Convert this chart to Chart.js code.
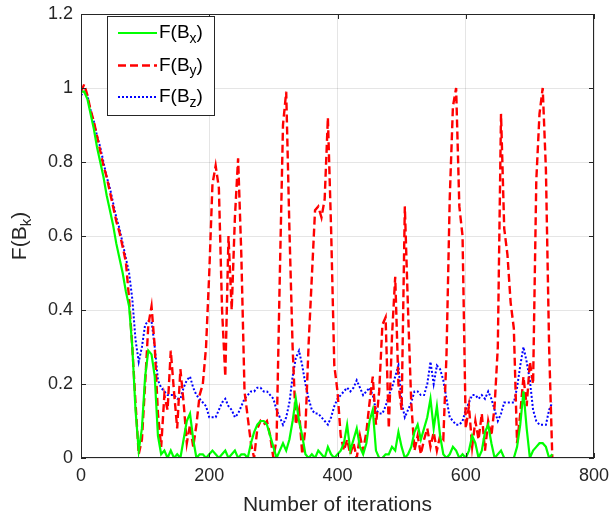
<!DOCTYPE html>
<html>
<head>
<meta charset="utf-8">
<script src="https://cdn.jsdelivr.net/npm/chart.js@4.4.1/dist/chart.umd.min.js"></script>
<style>
  html, body { margin: 0; padding: 0; background: #fff; }
</style>
</head>
<body>
<canvas id="chart1" width="611" height="520"></canvas>
<script>
// iterations sampled every 5 steps (0 .. 735)
var iterations = Array.from({ length: 148 }, function (_, i) { return i * 5; });

var seriesNames = ['F(B_x)', 'F(B_y)', 'F(B_z)'];
var yTitle = 'F(B_k)';
var xTitle = 'Number of iterations';

var xTicks = [0, 200, 400, 600, 800];
var xTickLabels = ['0', '200', '400', '600', '800'];
var yTicks = [0, 0.2, 0.4, 0.6, 0.8, 1, 1.2];
var yTickLabels = ['0', '0.2', '0.4', '0.6', '0.8', '1', '1.2'];

var fBx = [
  0.99, 0.99, 0.97, 0.93, 0.89, 0.84, 0.80, 0.76, 0.71, 0.67,
  0.63, 0.58, 0.54, 0.50, 0.45, 0.41, 0.30, 0.13, 0.02, 0.08,
  0.22, 0.29, 0.28, 0.22, 0.06, 0.01, 0.02, 0.00, 0.02, 0.00,
  0.01, 0.00, 0.05, 0.10, 0.12, 0.05, 0.00, 0.01, 0.01, 0.00,
  0.01, 0.02, 0.01, 0.00, 0.01, 0.02, 0.00, 0.01, 0.02, 0.00,
  0.01, 0.01, 0.00, 0.04, 0.07, 0.09, 0.10, 0.10, 0.09, 0.06,
  0.03, 0.00, 0.02, 0.04, 0.02, 0.05, 0.10, 0.16, 0.10, 0.06,
  0.01, 0.00, 0.01, 0.00, 0.02, 0.01, 0.00, 0.03, 0.01, 0.00,
  0.01, 0.02, 0.04, 0.09, 0.02, 0.05, 0.08, 0.03, 0.01, 0.04,
  0.10, 0.13, 0.02, 0.00, 0.00, 0.01, 0.01, 0.03, 0.02, 0.07,
  0.03, 0.00, 0.01, 0.03, 0.07, 0.09, 0.05, 0.08, 0.11, 0.16,
  0.08, 0.14, 0.06, 0.01, 0.00, 0.01, 0.03, 0.02, 0.00, 0.01,
  0.00, 0.02, 0.06, 0.04, 0.00, 0.02, 0.07, 0.09, 0.04, 0.00,
  0.01, 0.02, 0.00, 0.00, 0.00, 0.00, 0.03, 0.09, 0.18, 0.08,
  0.00, 0.02, 0.03, 0.04, 0.04, 0.03, 0.00, 0.01
];

var fBy = [
  0.99, 1.01, 0.98, 0.94, 0.91, 0.87, 0.83, 0.79, 0.76, 0.72,
  0.68, 0.64, 0.61, 0.57, 0.53, 0.43, 0.30, 0.15, 0.01, 0.05,
  0.20, 0.36, 0.41, 0.30, 0.12, 0.03, 0.17, 0.13, 0.29, 0.18,
  0.08, 0.24, 0.15, 0.04, 0.09, 0.03, 0.09, 0.17, 0.20, 0.30,
  0.50, 0.74, 0.79, 0.73, 0.40, 0.22, 0.60, 0.40, 0.65, 0.81,
  0.55, 0.18, 0.11, 0.04, 0.00, 0.08, 0.10, 0.09, 0.10, 0.06,
  0.00, 0.05, 0.49, 0.90, 0.99, 0.62, 0.30, 0.09, 0.13, 0.01,
  0.08, 0.31, 0.49, 0.67, 0.68, 0.65, 0.70, 0.92, 0.62, 0.25,
  0.18, 0.06, 0.02, 0.05, 0.01, 0.04, 0.00, 0.06, 0.02, 0.07,
  0.15, 0.22, 0.09, 0.18, 0.36, 0.38, 0.08, 0.33, 0.49, 0.20,
  0.13, 0.68, 0.40, 0.15, 0.02, 0.06, 0.01, 0.05, 0.08, 0.03,
  0.07, 0.02, 0.06, 0.05, 0.28, 0.70, 0.95, 1.00, 0.68, 0.60,
  0.08, 0.14, 0.03, 0.10, 0.05, 0.12, 0.02, 0.10, 0.06, 0.14,
  0.30, 0.93, 0.62, 0.55, 0.42, 0.35, 0.04, 0.12, 0.22, 0.14,
  0.26, 0.20, 0.75, 0.93, 1.00, 0.78, 0.30, 0.00
];

var fBz = [
  0.98, 0.99, 0.98, 0.94, 0.91, 0.87, 0.84, 0.80, 0.76, 0.73,
  0.69, 0.65, 0.62, 0.58, 0.54, 0.50, 0.43, 0.32, 0.26, 0.30,
  0.36, 0.37, 0.37, 0.30, 0.21, 0.19, 0.18, 0.17, 0.17, 0.17,
  0.16, 0.16, 0.19, 0.21, 0.22, 0.19, 0.17, 0.16, 0.15, 0.14,
  0.11, 0.11, 0.11, 0.13, 0.15, 0.16, 0.14, 0.13, 0.11, 0.12,
  0.14, 0.16, 0.17, 0.18, 0.18, 0.19, 0.19, 0.18, 0.18, 0.17,
  0.16, 0.13, 0.11, 0.09, 0.11, 0.15, 0.22, 0.27, 0.29, 0.25,
  0.20, 0.16, 0.13, 0.12, 0.12, 0.11, 0.10, 0.09, 0.11, 0.14,
  0.16, 0.17, 0.18, 0.19, 0.18, 0.19, 0.21, 0.19, 0.17, 0.18,
  0.19, 0.17, 0.13, 0.12, 0.12, 0.14, 0.17, 0.19, 0.22, 0.25,
  0.15, 0.11, 0.13, 0.15, 0.18, 0.18, 0.17, 0.17, 0.20, 0.26,
  0.20, 0.25, 0.24, 0.21, 0.16, 0.11, 0.10, 0.09, 0.09, 0.10,
  0.13, 0.15, 0.17, 0.17, 0.16, 0.17, 0.16, 0.18, 0.16, 0.13,
  0.10, 0.12, 0.15, 0.15, 0.15, 0.15, 0.19, 0.25, 0.30, 0.26,
  0.21, 0.13, 0.10, 0.09, 0.09, 0.09, 0.13, 0.15
];

var axisColor = '#262626';
var fontFamily = '"Liberation Sans", Arial, Helvetica, sans-serif';

// draws "F(B_x)" style text with a subscript, returns the width
function drawSubText(ctx, text, x, y, size, measureOnly) {
  var parts = text.split('_');
  var base = parts[0];
  var sub = parts[1] ? parts[1].charAt(0) : '';
  var tail = parts[1] ? parts[1].slice(1) : '';
  var subSize = Math.round(size * 0.72);
  ctx.font = size + 'px ' + fontFamily;
  var w1 = ctx.measureText(base).width;
  var w3 = ctx.measureText(tail).width;
  ctx.font = subSize + 'px ' + fontFamily;
  var w2 = ctx.measureText(sub).width;
  if (!measureOnly) {
    ctx.font = size + 'px ' + fontFamily;
    ctx.fillText(base, x, y);
    ctx.font = subSize + 'px ' + fontFamily;
    ctx.fillText(sub, x + w1, y + size * 0.32);
    ctx.font = size + 'px ' + fontFamily;
    ctx.fillText(tail, x + w1 + w2, y);
  }
  return w1 + w2 + w3;
}

var matlabLook = {
  id: 'matlabLook',
  afterDatasetsDraw: function (chart) {
    var ctx = chart.ctx;
    var a = chart.chartArea;
    var xs = chart.scales.x;
    var ys = chart.scales.y;

    ctx.save();
    // box + inward ticks
    ctx.strokeStyle = axisColor;
    ctx.lineWidth = 1;
    ctx.strokeRect(Math.round(a.left) + 0.5, Math.round(a.top) + 0.5,
      Math.round(a.width) - 1, Math.round(a.height) - 1);
    ctx.beginPath();
    xTicks.forEach(function (v) {
      var px = Math.round(xs.getPixelForValue(v)) + 0.5;
      ctx.moveTo(px, a.bottom); ctx.lineTo(px, a.bottom - 5);
      ctx.moveTo(px, a.top); ctx.lineTo(px, a.top + 5);
    });
    yTicks.forEach(function (v) {
      var py = Math.round(ys.getPixelForValue(v)) + 0.5;
      ctx.moveTo(a.left, py); ctx.lineTo(a.left + 5, py);
      ctx.moveTo(a.right, py); ctx.lineTo(a.right - 5, py);
    });
    ctx.stroke();

    // y axis title with subscript
    ctx.fillStyle = axisColor;
    ctx.textBaseline = 'middle';
    ctx.textAlign = 'left';
    var tw = drawSubText(ctx, yTitle, 0, 0, 21, true);
    ctx.translate(20, (a.top + a.bottom) / 2);
    ctx.rotate(-Math.PI / 2);
    drawSubText(ctx, yTitle, -tw / 2, 0, 21, false);
    ctx.restore();

    // legend
    ctx.save();
    var lx = 107.5, ly = 16.5, lw = 107, lh = 99;
    ctx.fillStyle = '#ffffff';
    ctx.fillRect(lx, ly, lw, lh);
    ctx.strokeStyle = axisColor;
    ctx.lineWidth = 1;
    ctx.strokeRect(lx, ly, lw, lh);
    var rows = [33, 65.5, 97];
    chart.data.datasets.forEach(function (ds, i) {
      ctx.save();
      ctx.strokeStyle = ds.borderColor;
      ctx.lineWidth = ds.borderWidth;
      ctx.setLineDash(ds.borderDash || []);
      ctx.beginPath();
      ctx.moveTo(118, rows[i]);
      ctx.lineTo(157, rows[i]);
      ctx.stroke();
      ctx.restore();
      ctx.fillStyle = '#000000';
      ctx.textBaseline = 'middle';
      ctx.textAlign = 'left';
      drawSubText(ctx, seriesNames[i], 159, rows[i], 19, false);
    });
    ctx.restore();
  }
};

var context = document.getElementById('chart1').getContext('2d');

var myChart = new Chart(context, {
  type: 'line',
  data: {
    labels: iterations,
    datasets: [{
      label: seriesNames[0],
      data: fBx,
      borderColor: '#00ff00',
      borderWidth: 2.2,
      borderDash: [],
      pointRadius: 0,
      tension: 0
    }, {
      label: seriesNames[1],
      data: fBy,
      borderColor: '#ff0000',
      borderWidth: 2.4,
      borderDash: [8, 4],
      pointRadius: 0,
      tension: 0
    }, {
      label: seriesNames[2],
      data: fBz,
      borderColor: '#0000ff',
      borderWidth: 2,
      borderDash: [2, 2],
      pointRadius: 0,
      tension: 0
    }]
  },
  options: {
    responsive: false,
    animation: false,
    devicePixelRatio: 1,
    layout: { padding: { top: 14, right: 17, left: 0, bottom: 0 } },
    plugins: {
      legend: { display: false },
      tooltip: { enabled: false }
    },
    scales: {
      x: {
        type: 'linear',
        min: 0,
        max: 800,
        afterFit: function (scale) {
          scale.height = 62;
          scale.paddingLeft = 0;
          scale.paddingRight = 0;
        },
        ticks: {
          stepSize: 200,
          padding: 7,
          color: axisColor,
          font: { family: fontFamily, size: 18 },
          callback: function (v) { return xTickLabels[xTicks.indexOf(v)]; }
        },
        grid: { color: 'rgba(38,38,38,0.12)', drawTicks: false },
        border: { display: false },
        title: {
          display: true,
          text: xTitle,
          color: axisColor,
          font: { family: fontFamily, size: 21 },
          padding: { top: 0, bottom: 2 }
        }
      },
      y: {
        min: 0,
        max: 1.2,
        afterFit: function (scale) {
          scale.width = 81;
          scale.paddingTop = 0;
          scale.paddingBottom = 0;
        },
        ticks: {
          stepSize: 0.2,
          padding: 8,
          color: axisColor,
          font: { family: fontFamily, size: 18 },
          callback: function (v, i) { return yTickLabels[i]; }
        },
        grid: { color: 'rgba(38,38,38,0.12)', drawTicks: false },
        border: { display: false }
      }
    }
  },
  plugins: [matlabLook]
});
</script>
</body>
</html>
